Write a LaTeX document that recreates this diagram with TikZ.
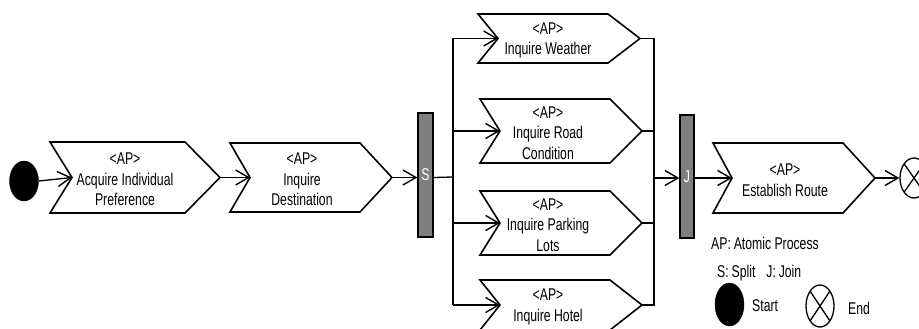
\documentclass[tikz,border=0pt]{standalone}
\usepackage{fontspec}
\setmainfont{Liberation Sans}[FakeStretch=0.72]
\usetikzlibrary{arrows.meta,shapes.geometric}

\definecolor{barfill}{HTML}{7F7F7F}

\tikzset{
  procbox/.style={draw=black, line width=1.6pt, line join=miter, fill=white},
  proctext/.style={align=center, font=\fontsize{17}{20.5}\selectfont, inner sep=0pt},
  wire/.style={line width=1.3pt},
  flow/.style={wire, -{Straight Barb[length=13pt,width=15pt,line width=1.4pt]}},
  syncbar/.style={draw=black, fill=barfill, line width=1.4pt, inner sep=0pt,
    text=white, font=\fontsize{17}{18}\selectfont},
  startdot/.style={ellipse, fill=black, draw=black, inner sep=0pt},
  enddot/.style={ellipse, draw=black, line width=1.3pt, inner sep=0pt,
    path picture={\draw[line width=1.3pt]
      (path picture bounding box.south west) -- (path picture bounding box.north east)
      (path picture bounding box.north west) -- (path picture bounding box.south east);}},
  legend/.style={font=\fontsize{17}{18}\selectfont, inner sep=0pt, anchor=west},
}

% Atomic process chevron: name, left x, notch x, shoulder x, tip x, top y, bottom y, text x, text
\newcommand\procnode[9]{%
  \draw[procbox] (#2,#6) -- (#4,#6) -- (#5,{(#6+#7)/2}) -- (#4,#7) -- (#2,#7)
    -- (#3,{(#6+#7)/2}) -- cycle;
  \coordinate (#1-in) at (#3,{(#6+#7)/2});
  \coordinate (#1-out) at (#5,{(#6+#7)/2});
  \node[proctext] (#1) at (#8,{(#6+#7)/2+2}) {#9};
}

\begin{document}
\begin{tikzpicture}[x=1pt, y=-1pt]
\useasboundingbox (0,0) rectangle (919,329);

% start and end markers
\node[startdot, minimum width=29pt, minimum height=40pt] (start) at (24,181) {};
\node[enddot, minimum width=28pt, minimum height=40pt] (end) at (914,178) {};

% process steps
\procnode{acq}{50}{72}{185}{220}{142}{213}{125}{<AP>\\Acquire Individual\\Preference}
\procnode{dest}{230}{250}{360}{392}{143}{212}{302}{<AP>\\Inquire\\Destination}
\procnode{wea}{478}{498}{608}{640}{14}{63}{548}{<AP>\\Inquire Weather}
\procnode{road}{480}{500}{610}{642}{99}{163}{548}{<AP>\\Inquire Road\\Condition}
\procnode{park}{480}{500}{610}{642}{191}{255}{548}{<AP>\\Inquire Parking\\Lots}
\procnode{hotel}{480}{500}{610}{642}{280}{330}{548}{<AP>\\Inquire Hotel}
\procnode{route}{713}{732}{843}{875}{143}{213}{785}{<AP>\\Establish Route}

% split and join bars
\node[syncbar, minimum width=15pt, minimum height=124pt] (S) at (425.5,175) {S};
\node[syncbar, minimum width=14pt, minimum height=123pt] (J) at (687,176.5) {J};

\coordinate (sp) at (453,177);
\coordinate (jn) at (654,178);

% sequential flow
\draw[flow] (start.east) -- (acq-in);
\draw[flow] (acq-out) -- (dest-in);
\draw[flow] (dest-out) -- (dest-out -| S.west);

% split fan-out
\draw[wire] (S.east |- dest-out) -- (sp);
\draw[wire] (sp |- wea-in) -- (sp |- hotel-in);
\draw[flow] (sp |- wea-in) -- (wea-in);
\draw[flow] (sp |- road-in) -- (road-in);
\draw[flow] (sp |- park-in) -- (park-in);
\draw[flow] (sp |- hotel-in) -- (hotel-in);

% join fan-in
\draw[wire] (wea-out) -- (wea-out -| jn) -- (hotel-out -| jn) -- (hotel-out);
\draw[wire] (road-out) -- (road-out -| jn);
\draw[wire] (park-out) -- (park-out -| jn);
\draw[flow] (jn) -- (jn -| J.west);
\draw[flow] (J.east |- route-in) -- (route-in);
\draw[flow] (route-out) -- (end.west);

% legend
\node[legend] (lgap) at (711,243) {AP:\,Atomic Process};
\node[legend] (lgsj) at (717,273) {S:\,Split\hspace{11pt}J:\,Join};
\node[startdot, minimum width=29pt, minimum height=43pt] (lgstart) at (729.5,304.5) {};
\node[legend] (lgstarttxt) at (752,306) {Start};
\node[enddot, minimum width=28pt, minimum height=42pt] (lgend) at (820,306) {};
\node[legend] (lgendtxt) at (848,308) {End};
\end{tikzpicture}
\end{document}
